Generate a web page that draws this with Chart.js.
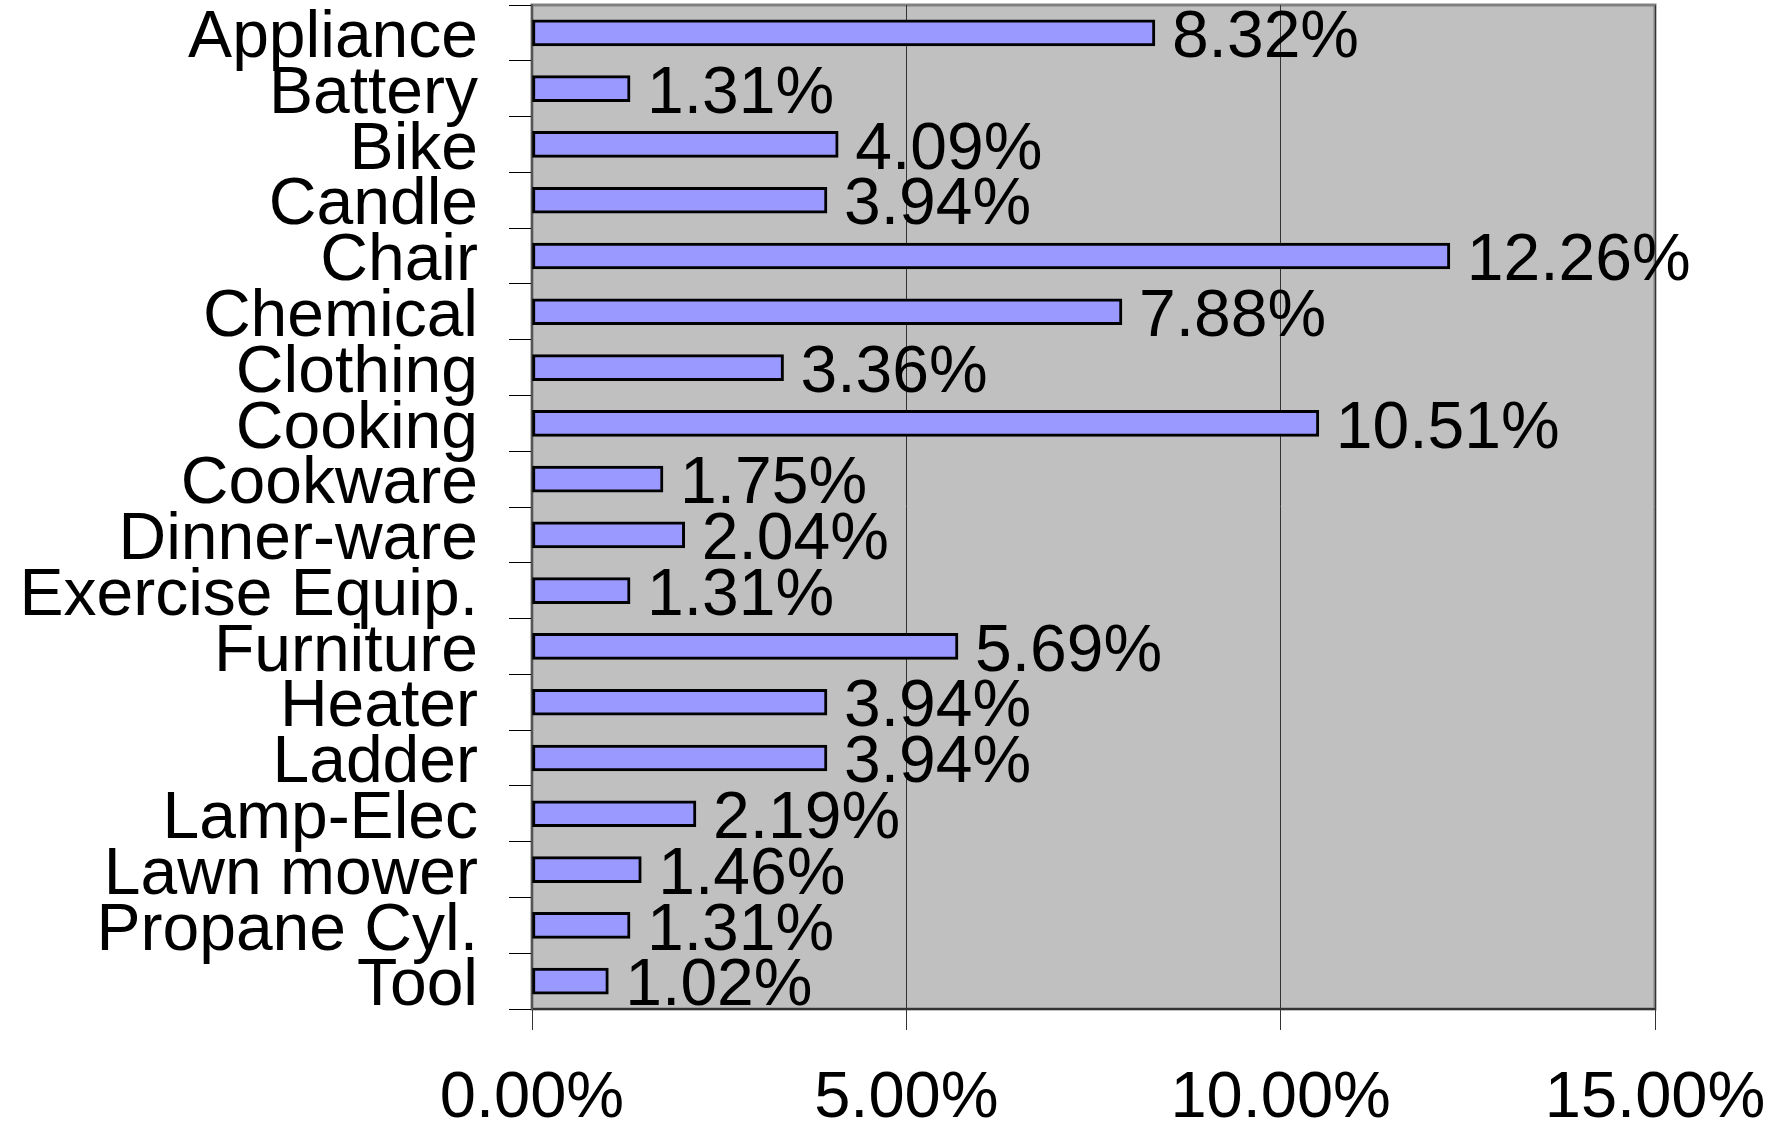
<!DOCTYPE html>
<html>
<head>
<meta charset="utf-8">
<title>Product categories</title>
<script src="https://cdn.jsdelivr.net/npm/chart.js@4/dist/chart.umd.min.js"></script>
<style>
    html, body {
        margin: 0;
        padding: 0;
        background: #ffffff;
    }
    .chart-box {
        position: relative;
        width: 1774px;
        height: 1126px;
    }
</style>
</head>
<body>
<div class="chart-box">
    <canvas id="barChart"></canvas>
</div>
<script>
// カテゴリと値 (%)
const categories = [
    'Appliance', 'Battery', 'Bike', 'Candle', 'Chair', 'Chemical',
    'Clothing', 'Cooking', 'Cookware', 'Dinner-ware', 'Exercise Equip.',
    'Furniture', 'Heater', 'Ladder', 'Lamp-Elec', 'Lawn mower',
    'Propane Cyl.', 'Tool'
];
const shares = [
    8.32, 1.31, 4.09, 3.94, 12.26, 7.88,
    3.36, 10.51, 1.75, 2.04, 1.31,
    5.69, 3.94, 3.94, 2.19, 1.46,
    1.31, 1.02
];
// x軸の目盛り
const xMin = 0;
const xMax = 15;
const xStep = 5;

const FONT = '"Liberation Sans", Arial, sans-serif';

function pct(v) {
    return Number(v).toFixed(2) + '%';
}

// プロットエリアの灰色背景と枠
const plotBackground = {
    id: 'plotBackground',
    beforeDraw(chart) {
        const { ctx, chartArea } = chart;
        const { left, top, width, height } = chartArea;
        ctx.save();
        ctx.fillStyle = '#c0c0c0';
        ctx.fillRect(left, top, width, height);
        ctx.strokeStyle = '#808080';
        ctx.lineWidth = 3;
        ctx.strokeRect(left, top, width, height);
        ctx.restore();
    }
};

// バーの右側に値を表示
const valueLabels = {
    id: 'valueLabels',
    afterDatasetsDraw(chart) {
        const ctx = chart.ctx;
        const meta = chart.getDatasetMeta(0);
        ctx.save();
        ctx.font = '66px ' + FONT;
        ctx.fillStyle = '#000000';
        ctx.textAlign = 'left';
        ctx.textBaseline = 'middle';
        meta.data.forEach((bar, i) => {
            ctx.fillText(pct(shares[i]), bar.x + 17, bar.y + 6);
        });
        ctx.restore();
    }
};

function createChart() {
    const ctx = document.getElementById('barChart').getContext('2d');

    new Chart(ctx, {
        type: 'bar',
        data: {
            labels: categories,
            datasets: [{
                data: shares,
                backgroundColor: '#9999ff',
                borderColor: '#000000',
                borderWidth: 3,
                borderSkipped: false,
                barThickness: 26
            }]
        },
        options: {
            indexAxis: 'y',
            responsive: true,
            maintainAspectRatio: false,
            animation: false,
            layout: {
                padding: { top: 5, right: 119, bottom: 0, left: 0 }
            },
            plugins: {
                legend: { display: false },
                tooltip: { enabled: false }
            },
            scales: {
                x: {
                    min: xMin,
                    max: xMax,
                    afterFit(scale) {
                        scale.height = 117;
                        scale.paddingLeft = 0;
                        scale.paddingRight = 0;
                    },
                    ticks: {
                        stepSize: xStep,
                        padding: 30,
                        color: '#000000',
                        font: { family: FONT, size: 65 },
                        callback: v => pct(v)
                    },
                    grid: {
                        color: '#333333',
                        lineWidth: 1,
                        tickLength: 21
                    },
                    border: { display: true, color: '#333333', width: 2 }
                },
                y: {
                    afterFit(scale) {
                        scale.width = 532;
                        scale.paddingTop = 0;
                        scale.paddingBottom = 0;
                    },
                    ticks: {
                        autoSkip: false,
                        padding: 31,
                        labelOffset: 6,
                        color: '#000000',
                        font: { family: FONT, size: 66 }
                    },
                    grid: {
                        drawOnChartArea: false,
                        color: '#000000',
                        lineWidth: 1,
                        tickLength: 23
                    },
                    border: { display: true, color: '#555555', width: 2 }
                }
            }
        },
        plugins: [plotBackground, valueLabels]
    });
}

document.addEventListener('DOMContentLoaded', () => {
    createChart();
});
</script>
</body>
</html>
